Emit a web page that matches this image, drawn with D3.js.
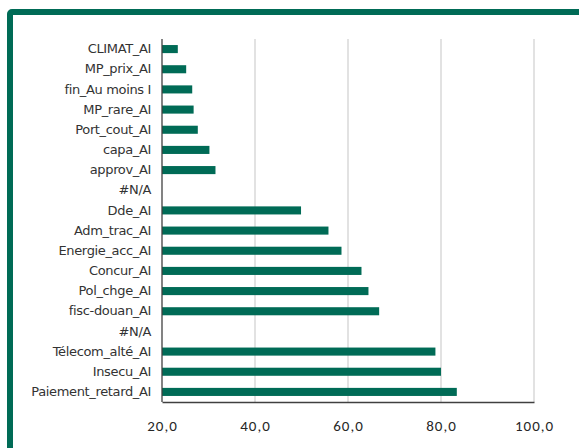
<!DOCTYPE html>
<html>
<head>
<meta charset="utf-8">
<script src="https://cdn.jsdelivr.net/npm/d3@7"></script>
<style>
  html, body { margin: 0; padding: 0; background: #ffffff; }
  svg { display: block; }
</style>
</head>
<body>
<svg id="chart" width="579" height="448"></svg>
<script>
// Indicator labels, top to bottom
const categories = [
  "CLIMAT_AI", "MP_prix_AI", "fin_Au moins I", "MP_rare_AI", "Port_cout_AI",
  "capa_AI", "approv_AI", "#N/A", "Dde_AI", "Adm_trac_AI", "Energie_acc_AI",
  "Concur_AI", "Pol_chge_AI", "fisc-douan_AI", "#N/A", "Télecom_alté_AI",
  "Insecu_AI", "Paiement_retard_AI"
];
// Share per indicator (null where the source has no value)
const values = [
  23.4, 25.2, 26.5, 26.8, 27.7,
  30.2, 31.5, null, 49.9, 55.8, 58.6,
  62.9, 64.4, 66.7, null, 78.8,
  80.0, 83.4
];
const tickValues = [20, 40, 60, 80, 100];

const green = "#006b56";
const svg = d3.select("#chart");

// Outer frame, open to the right and bottom
svg.append("rect")
  .attr("x", 10).attr("y", 12)
  .attr("width", 640).attr("height", 500)
  .attr("rx", 2)
  .attr("fill", "none")
  .attr("stroke", green)
  .attr("stroke-width", 6);

const plot = { left: 162, right: 534, top: 39, bottom: 402 };

const x = d3.scaleLinear().domain([20, 100]).range([plot.left, plot.right]);
const y = d3.scaleBand()
  .domain(categories.map((c, i) => i))
  .range([plot.top, plot.bottom])
  .paddingInner(0.6)
  .paddingOuter(0.3);

// Vertical gridlines
svg.append("g")
  .selectAll("line")
  .data(tickValues.slice(1))
  .join("line")
  .attr("x1", d => x(d)).attr("x2", d => x(d))
  .attr("y1", plot.top).attr("y2", plot.bottom)
  .attr("stroke", "#d9d9d9")
  .attr("stroke-width", 1.5);

// Bars
svg.append("g")
  .selectAll("rect")
  .data(values.map((v, i) => ({ v, i })).filter(d => d.v !== null))
  .join("rect")
  .attr("x", x(20))
  .attr("y", d => y(d.i))
  .attr("width", d => x(d.v) - x(20))
  .attr("height", y.bandwidth())
  .attr("fill", green);

// Category axis
const yAxis = d3.axisLeft(y)
  .tickFormat(i => categories[i])
  .tickSize(0)
  .tickPadding(11);
const gy = svg.append("g")
  .attr("transform", `translate(${plot.left},0)`)
  .call(yAxis);
gy.select(".domain")
  .attr("d", `M0,${plot.top}V${plot.bottom}`)
  .attr("stroke", "#404040")
  .attr("stroke-width", 1.3);
gy.selectAll("text")
  .attr("font-family", "'DejaVu Sans', sans-serif")
  .attr("font-size", 13)
  .attr("letter-spacing", "-0.35px")
  .attr("fill", "#333333");

// Value axis
const xAxis = d3.axisBottom(x)
  .tickValues(tickValues)
  .tickFormat(d => d3.format(".1f")(d).replace(".", ","))
  .tickSize(0)
  .tickPadding(18);
const gx = svg.append("g")
  .attr("transform", `translate(0,${plot.bottom})`)
  .call(xAxis);
gx.select(".domain")
  .attr("stroke", "#404040")
  .attr("stroke-width", 1.3);
gx.selectAll("text")
  .attr("font-family", "'Carlito', 'Liberation Sans', sans-serif")
  .attr("font-size", 15)
  .attr("letter-spacing", "1px")
  .attr("fill", "#262626");
</script>
</body>
</html>
